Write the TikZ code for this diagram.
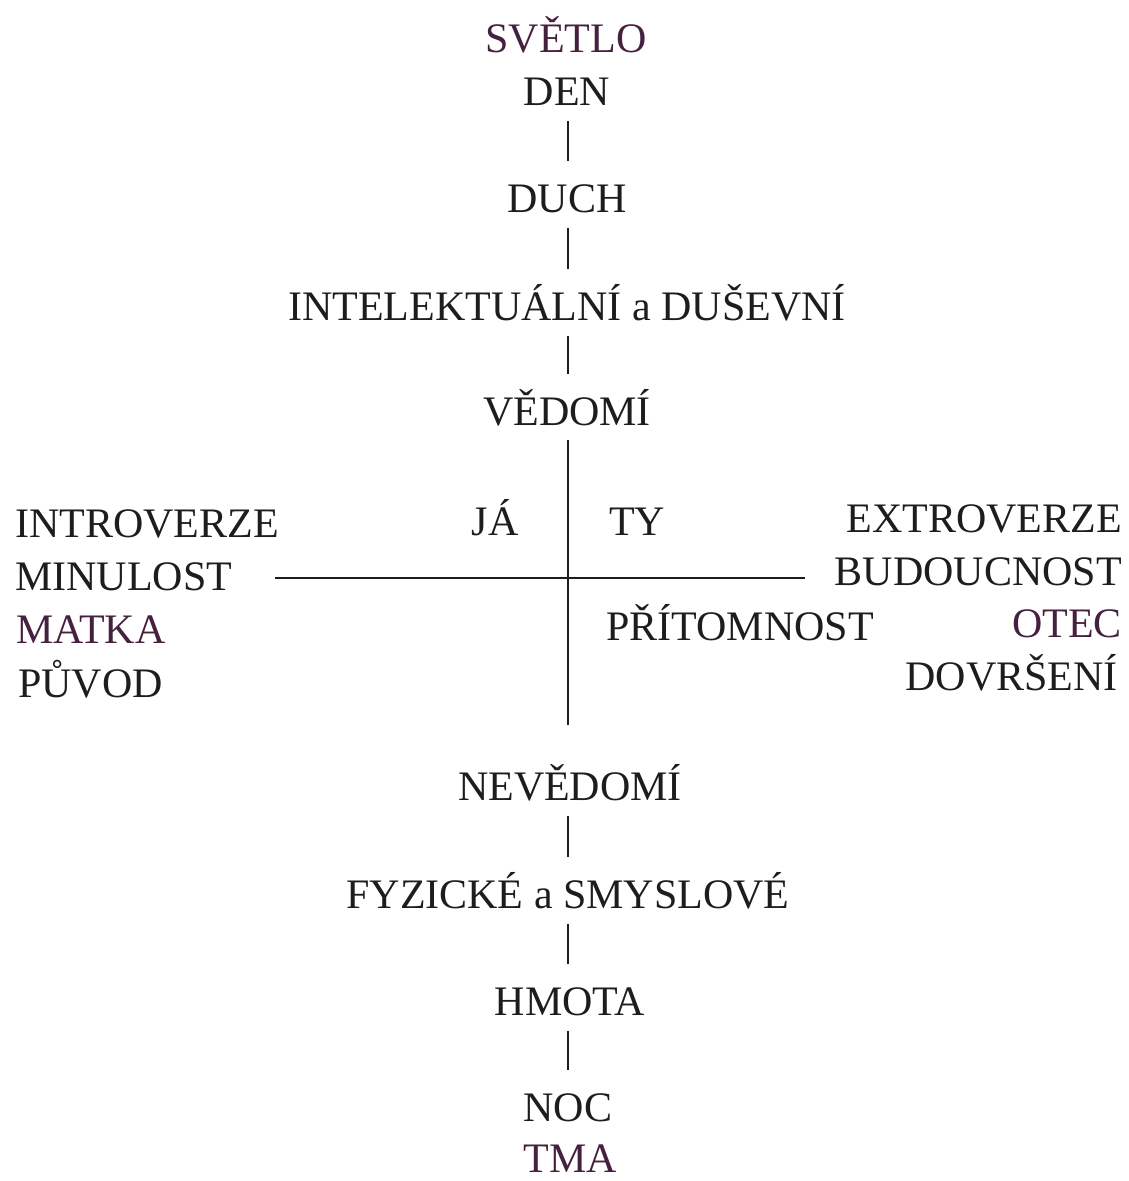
\documentclass[tikz,border=0pt]{standalone}
\usepackage{fontspec}
\setmainfont{Liberation Serif}
\usetikzlibrary{calc}
\definecolor{ink}{HTML}{1E1C1D}
\definecolor{plum}{HTML}{46203F}
\begin{document}
\begin{tikzpicture}[x=1pt,y=-1pt,
  lbl/.style={inner sep=0pt,text height=28pt,text depth=0pt,text=ink,
    font=\fontsize{42}{50}\selectfont},
  ctr/.style={lbl,anchor=base},
  lft/.style={lbl,anchor=base west},
  rgt/.style={lbl,anchor=base east},
  tick/.style={draw=ink,line width=1.8pt},
  axisline/.style={draw=ink,line width=1.8pt},
  crossline/.style={draw=ink,line width=2.4pt}]
\useasboundingbox (0,0) rectangle (1129,1181);
\coordinate (ax) at (568,0);
% vertical stack
\node[ctr,text=plum] (svetlo) at (566,52) {SVĚTLO};
\node[ctr] (den) at (567,105) {DEN};
\node[ctr] (duch) at (567,212) {DUCH};
\node[ctr] (intel) at (567,320) {INTELEKTUÁLNÍ a DUŠEVNÍ};
\node[ctr] (vedomi) at (567,425) {VĚDOMÍ};
\node[ctr] (nevedomi) at (570,800) {NEVĚDOMÍ};
\node[ctr] (fyzicke) at (568,908) {FYZICKÉ a SMYSLOVÉ};
\node[ctr] (hmota) at (570,1015) {HMOTA};
\node[ctr] (noc) at (568,1121) {NOC};
\node[ctr,text=plum] (tma) at (570,1172) {TMA};
% quadrant labels
\node[ctr] (ja) at (495,535) {JÁ};
\node[ctr] (ty) at (637,535) {TY};
\node[lft] (pritomnost) at (606,640) {PŘÍTOMNOST};
% left column
\node[lft] (introverze) at (15,537) {INTROVERZE};
\node[lft] (minulost) at (15,590) {MINULOST};
\node[lft,text=plum] (matka) at (16,643) {MATKA};
\node[lft] (puvod) at (18,697) {PŮVOD};
% right column
\node[rgt] (extroverze) at (1122,532) {EXTROVERZE};
\node[rgt] (budoucnost) at (1122,585) {BUDOUCNOST};
\node[rgt,text=plum] (otec) at (1122,637) {OTEC};
\node[rgt] (dovrseni) at (1118,690) {DOVRŠENÍ};
% short ticks
\foreach \a/\b in {den/duch,duch/intel,intel/vedomi,nevedomi/fyzicke,fyzicke/hmota,hmota/noc}{
  \draw[tick] ($(\a.south -| ax)+(0,16)$) -- ($(\b.north -| ax)+(0,-23)$);
}
% long axis
\draw[axisline] ($(vedomi.south -| ax)+(0,15)$) -- ($(nevedomi.north -| ax)+(0,-47)$);
% horizontal line
\coordinate (hlL) at (275,578);
\coordinate (hlR) at (805,578);
\draw[crossline] (hlL) -- (hlR);
\end{tikzpicture}
\end{document}
